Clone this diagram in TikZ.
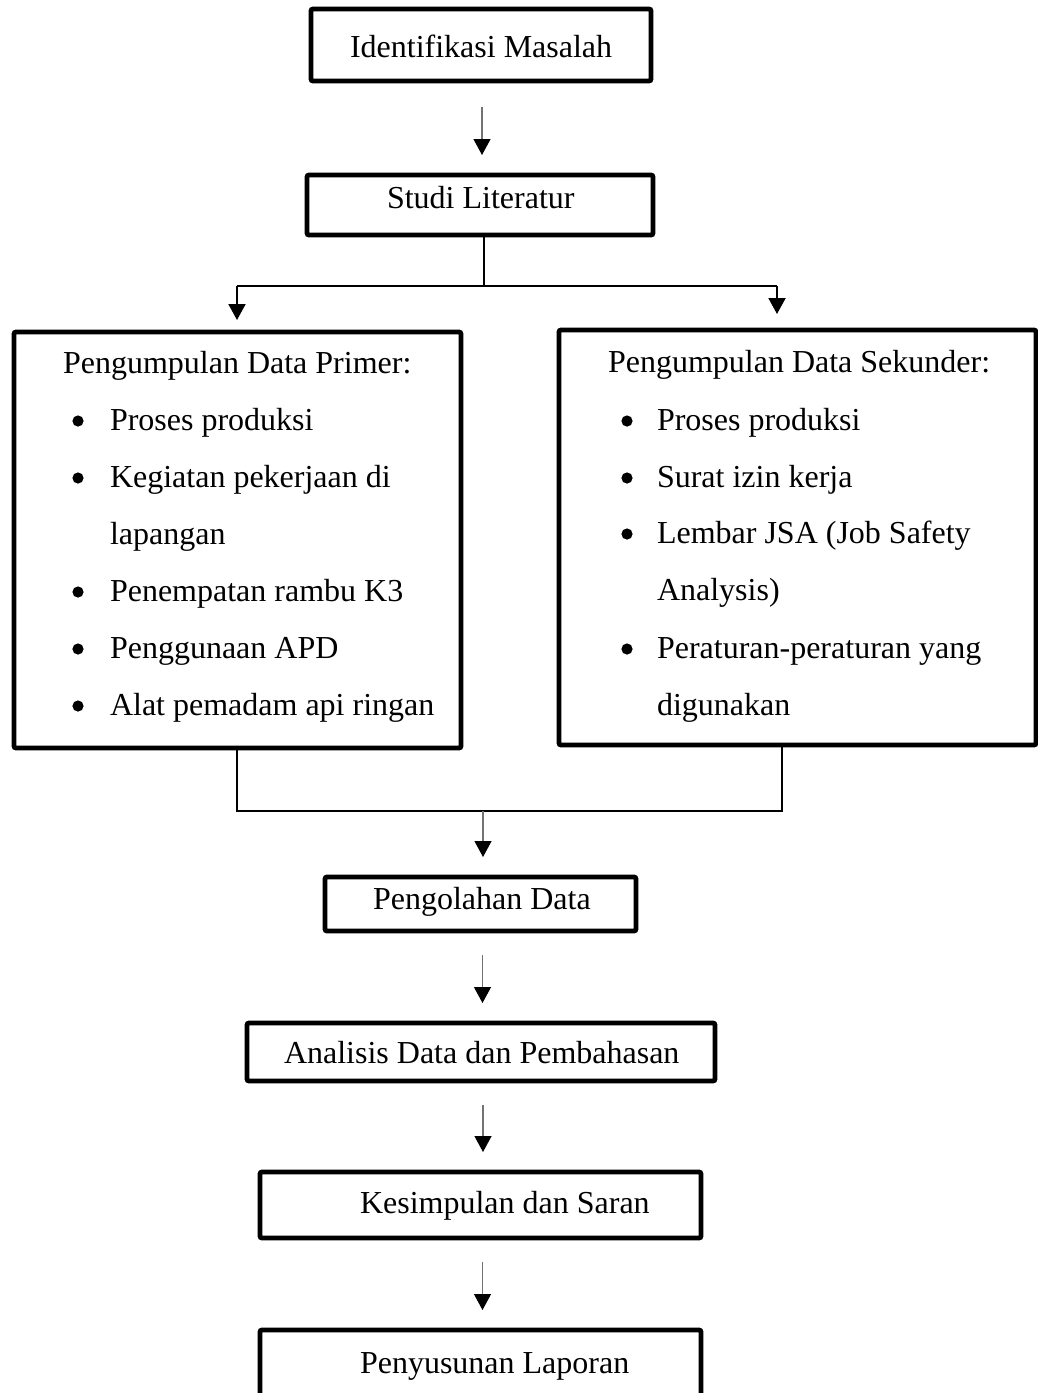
\documentclass[tikz,border=0pt]{standalone}
\usepackage{fontspec}
\setmainfont{Liberation Serif}
\usetikzlibrary{arrows.meta}
\begin{document}
\begin{tikzpicture}[x=0.5pt,y=-0.5pt,
  every node/.style={font=\fontsize{16pt}{19pt}\selectfont},
  box/.style={draw=black, line width=2.4pt, rounded corners=1pt, rectangle, inner sep=0pt, outer sep=0pt, anchor=north west},
  lbl/.style={anchor=base west, inner sep=0pt, outer sep=0pt},
  dot/.style={circle, fill=black, draw=none, minimum size=5.6pt, inner sep=0pt},
  conn/.style={draw=black, line width=1pt},
  tipk/.style={-{Triangle[width=8.5pt,length=8pt,color=black]}},
  flow/.style={draw=black!55, line width=0.6pt, tipk}
]
\useasboundingbox (0,0) rectangle (1038,1393);

% boxes
\node[box, minimum width=170pt, minimum height=36pt] (ident) at (311,9) {};
\node[box, minimum width=173pt, minimum height=30pt] (studi) at (307,175) {};
\node[box, minimum width=223.5pt, minimum height=208pt] (prim) at (14,332) {};
\node[box, minimum width=238.5pt, minimum height=207.5pt] (sek) at (559,330) {};
\node[box, minimum width=155.5pt, minimum height=27pt] (peng) at (325,877) {};
\node[box, minimum width=234pt, minimum height=29pt] (anal) at (247,1023) {};
\node[box, minimum width=220.5pt, minimum height=33pt] (kes) at (260,1172) {};
\node[box, minimum width=220.5pt, minimum height=60pt] (peny) at (260,1330) {};

% texts
\node[lbl] (tident) at (350,57) {Identifikasi Masalah};
\node[lbl] (tstudi) at (387,208) {Studi Literatur};
\node[lbl] (tprim) at (63,373) {Pengumpulan Data Primer:};
\node[dot] (pd1) at (78,421) {};
\node[lbl] (p1) at (110,430) {Proses produksi};
\node[dot] (pd2) at (78,478) {};
\node[lbl] (p2) at (110,487) {Kegiatan pekerjaan di};
\node[lbl] (p2b) at (110,544) {lapangan};
\node[dot] (pd3) at (78,592) {};
\node[lbl] (p3) at (110,601) {Penempatan rambu K3};
\node[dot] (pd4) at (78,649) {};
\node[lbl] (p4) at (110,658) {Penggunaan APD};
\node[dot] (pd5) at (78,706) {};
\node[lbl] (p5) at (110,715) {Alat pemadam api ringan};

\node[lbl] (tsek) at (608,372) {Pengumpulan Data Sekunder:};
\node[dot] (sd1) at (627,421) {};
\node[lbl] (s1) at (657,430) {Proses produksi};
\node[dot] (sd2) at (627,478) {};
\node[lbl] (s2) at (657,487) {Surat izin kerja};
\node[dot] (sd3) at (627,534) {};
\node[lbl] (s3) at (657,543) {Lembar JSA (Job Safety};
\node[lbl] (s3b) at (657,600) {Analysis)};
\node[dot] (sd4) at (627,649) {};
\node[lbl] (s4) at (657,658) {Peraturan-peraturan yang};
\node[lbl] (s4b) at (657,715) {digunakan};

\node[lbl] (tpeng) at (373,909) {Pengolahan Data};
\node[lbl] (tanal) at (284,1063) {Analisis Data dan Pembahasan};
\node[lbl] (tkes) at (360,1213) {Kesimpulan dan Saran};
\node[lbl] (tpeny) at (360,1373) {Penyusunan Laporan};

% connectors
\coordinate (jt) at (484,286);
\coordinate (jl) at (237,286);
\coordinate (jr) at (777,286);
\coordinate (bl) at (237,811);
\coordinate (br) at (782,811);
\coordinate (bm) at (483,811);

\draw[flow, shorten <=13pt, shorten >=10pt] ([xshift=0.5pt]ident.south) -- ([xshift=0.5pt]ident.south |- studi.north);
\draw[conn] (studi.south -| jt) -- (jt);
\draw[conn] (jl) -- (jr);
\draw[conn, tipk, shorten >=6pt] (jl) -- (jl |- prim.north);
\draw[conn, tipk, shorten >=8pt] (jr) -- (jr |- sek.north);
\draw[conn] (bl |- prim.south) -- (bl) -- (br) -- (br |- sek.south);
\draw[flow, shorten >=10pt] (bm) -- (bm |- peng.north);
\draw[flow, shorten <=12pt, shorten >=10pt] ([xshift=1pt]peng.south) -- ([xshift=1pt]peng.south |- anal.north);
\draw[flow, shorten <=12pt, shorten >=10pt] ([xshift=1pt]anal.south) -- ([xshift=1pt]anal.south |- kes.north);
\draw[flow, shorten <=12pt, shorten >=10pt] ([xshift=1pt]kes.south) -- ([xshift=1pt]kes.south |- peny.north);
\end{tikzpicture}
\end{document}
